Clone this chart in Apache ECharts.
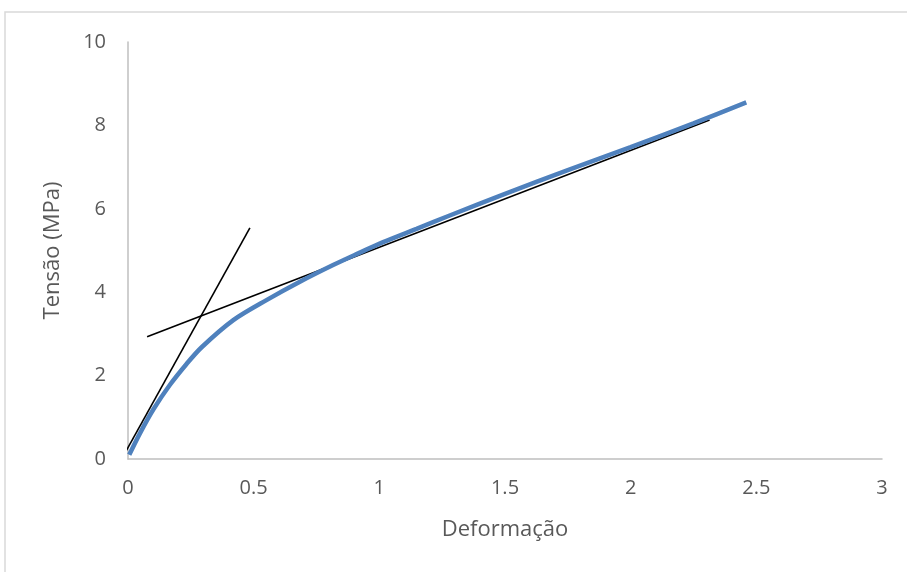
<!DOCTYPE html>
<html>
<head>
<meta charset="utf-8">
<script src="https://cdn.jsdelivr.net/npm/echarts@6/dist/echarts.min.js"></script>
<style>
  html, body { margin: 0; padding: 0; background: #fff; }
  #chart { width: 907px; height: 572px; }
</style>
</head>
<body>
<div id="chart"></div>
<script>
  // curva tensão x deformação
  var deformacao = [0.005, 0.048, 0.10, 0.167, 0.233, 0.293, 0.419, 0.551, 0.684, 0.816, 0.916, 1.015, 1.148, 1.28, 1.5, 1.75, 2.0, 2.25, 2.46]
  var tensao = [0.1, 0.62, 1.18, 1.78, 2.28, 2.68, 3.33, 3.81, 4.25, 4.65, 4.93, 5.20, 5.52, 5.84, 6.36, 6.93, 7.48, 8.05, 8.55]
  // retas tangentes
  var retaElasticaX = [-0.016, 0.485]
  var retaElasticaY = [0.1, 5.54]
  var retaPlasticaX = [0.076, 2.314]
  var retaPlasticaY = [2.93, 8.13]
  var xTicks = [0, 0.5, 1, 1.5, 2, 2.5, 3]
  var yTicks = [0, 2, 4, 6, 8, 10]

  function pares(xs, ys) {
    return xs.map(function (x, i) { return [x, ys[i]] })
  }

  var fonte = '"Open Sans", "Liberation Sans", sans-serif'
  var chart = echarts.init(document.getElementById('chart'))
  chart.setOption({
    animation: false,
    graphic: [{
      type: 'rect',
      shape: { x: 5, y: 12, width: 930, height: 600 },
      style: { fill: 'none', stroke: '#d9d9d9', lineWidth: 1.5 },
      silent: true
    }],
    grid: { left: 128, right: 25, top: 42, bottom: 113 },
    xAxis: {
      type: 'value',
      min: 0,
      max: 3,
      interval: 0.5,
      name: 'Deformação',
      nameLocation: 'middle',
      nameGap: 60,
      nameTextStyle: { color: '#595959', fontSize: 22, fontFamily: fonte },
      axisLine: { lineStyle: { color: '#bfbfbf', width: 1.5 } },
      axisTick: { show: false },
      splitLine: { show: false },
      axisLabel: {
        color: '#595959', fontSize: 20, fontFamily: fonte, margin: 19,
        formatter: function (v) { return xTicks.indexOf(v) >= 0 ? String(v) : '' }
      }
    },
    yAxis: {
      type: 'value',
      min: 0,
      max: 10,
      interval: 2,
      name: 'Tensão (MPa)',
      nameLocation: 'middle',
      nameGap: 64,
      nameRotate: 90,
      nameTextStyle: { color: '#595959', fontSize: 22, fontFamily: fonte },
      axisLine: { show: true, lineStyle: { color: '#bfbfbf', width: 1.5 } },
      axisTick: { show: false },
      splitLine: { show: false },
      axisLabel: {
        color: '#595959', fontSize: 20, fontFamily: fonte, margin: 22,
        formatter: function (v) { return yTicks.indexOf(v) >= 0 ? String(v) : '' }
      }
    },
    series: [
      {
        type: 'line',
        data: pares(deformacao, tensao),
        smooth: 0.3,
        symbol: 'none',
        lineStyle: { color: '#4f81bd', width: 4.5 },
        z: 3
      },
      {
        type: 'line',
        data: pares(retaElasticaX, retaElasticaY),
        symbol: 'none',
        clip: false,
        lineStyle: { color: '#000', width: 1.6 },
        z: 4
      },
      {
        type: 'line',
        data: pares(retaPlasticaX, retaPlasticaY),
        symbol: 'none',
        lineStyle: { color: '#000', width: 1.6 },
        z: 2
      }
    ]
  })
</script>
</body>
</html>
